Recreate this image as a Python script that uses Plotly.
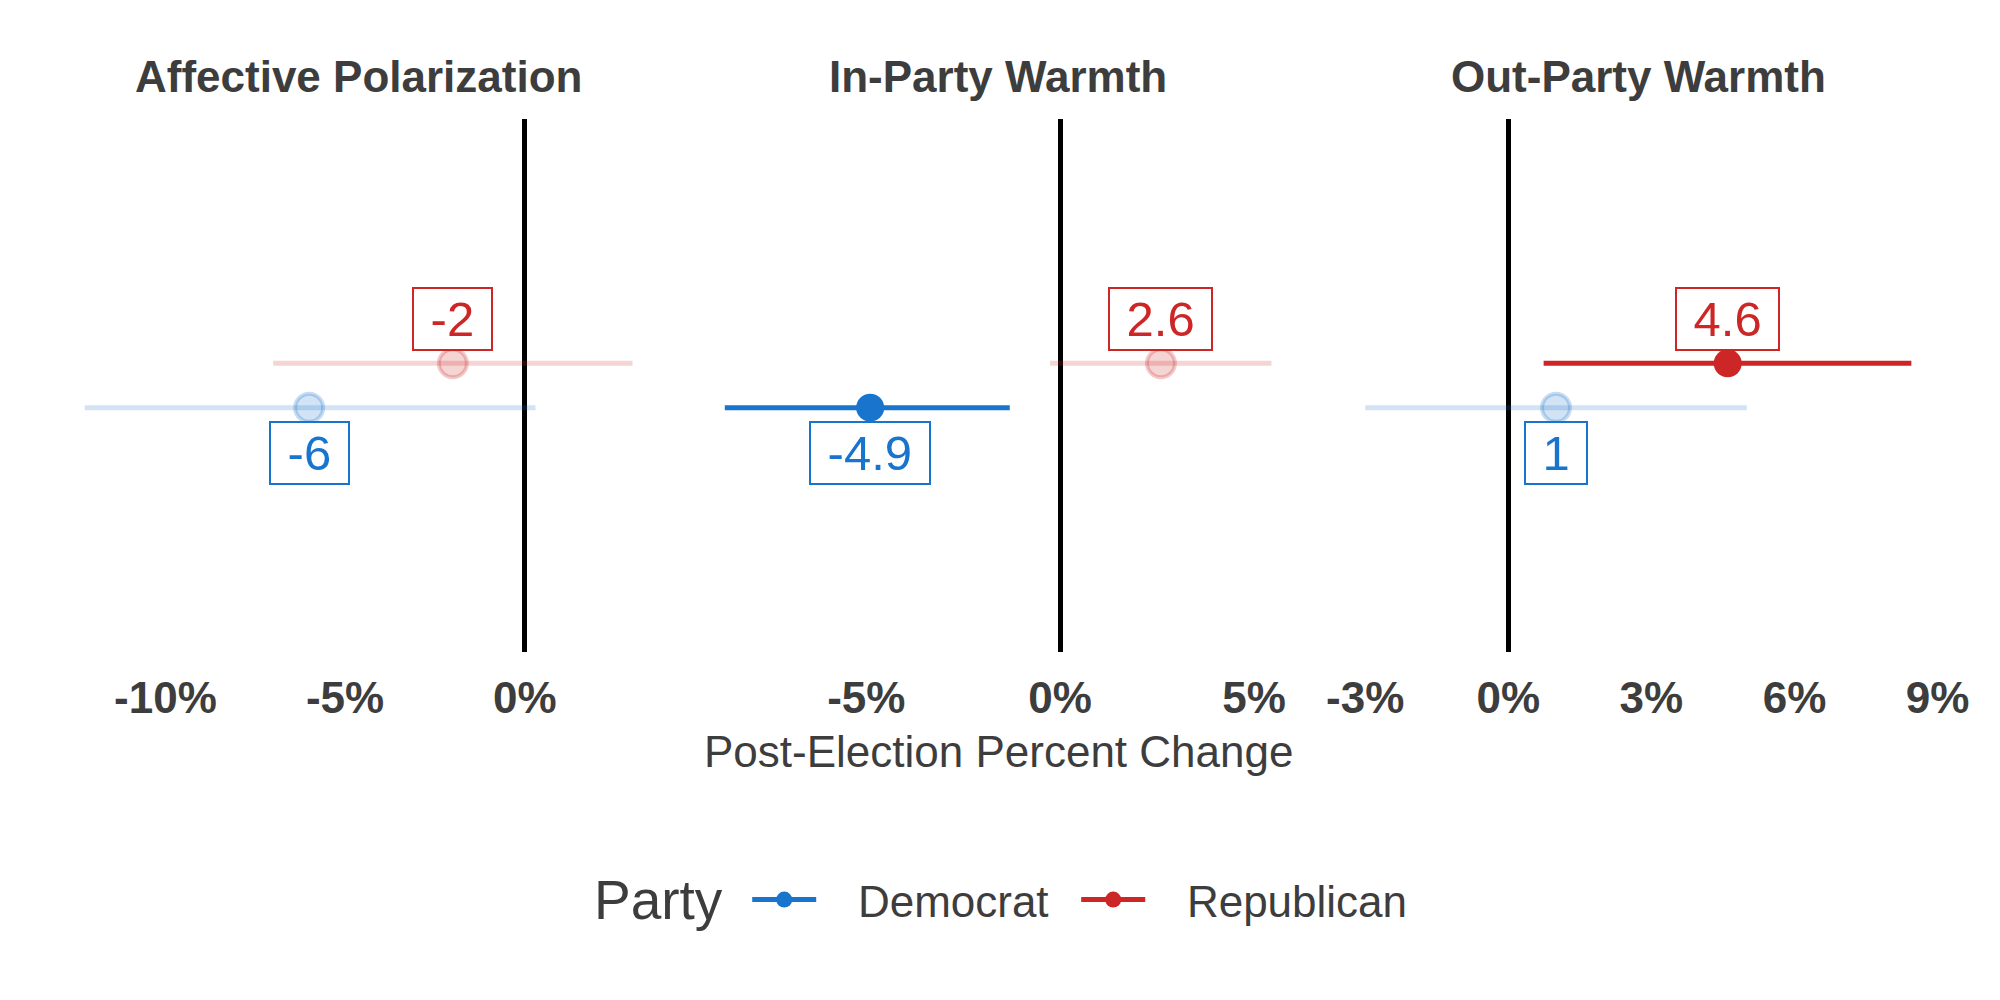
import plotly.graph_objects as go

# ---- data ----
panels = ["Affective Polarization", "In-Party Warmth", "Out-Party Warmth"]
parties = ["Democrat", "Republican"]

dem_est = [-6.0, -4.9, 1.0]
dem_lo = [-12.25, -8.65, -3.0]
dem_hi = [0.3, -1.3, 5.0]

rep_est = [-2.0, 2.6, 4.6]
rep_lo = [-7.0, -0.26, 0.74]
rep_hi = [3.0, 5.45, 8.45]

dem_labels = ["-6", "-4.9", "1"]
rep_labels = ["-2", "2.6", "4.6"]

tick_vals = [[-10, -5, 0], [-5, 0, 5], [-3, 0, 3, 6, 9]]
tick_text = [["-10%", "-5%", "0%"], ["-5%", "0%", "5%"], ["-3%", "0%", "3%", "6%", "9%"]]

# ---- style ----
BLUE = "#1874CD"
RED = "#CD2626"
TXT = "#3D3D3D"
FONT = "Liberation Sans, Arial, sans-serif"
ALPHA = 0.2
NB = "\u00a0"

def rgba(hexc, a):
    h = hexc.lstrip("#")
    r, g, b = int(h[0:2], 16), int(h[2:4], 16), int(h[4:6], 16)
    return f"rgba({r},{g},{b},{a})"

x_domains = [[0.0236, 0.3314], [0.3506, 0.6577], [0.6777, 0.9845]]
y_domain = [0.348, 0.881]
y_pos = {"Democrat": 0.95, "Republican": 1.05}

fig = go.Figure()

series = {
    "Democrat": (dem_est, dem_lo, dem_hi, dem_labels, BLUE, -45),
    "Republican": (rep_est, rep_lo, rep_hi, rep_labels, RED, 44),
}

for i in range(3):
    ax = "" if i == 0 else str(i + 1)
    xa, ya = "x" + ax, "y" + ax
    for party in parties:
        est, lo, hi, labs, col, shift = series[party]
        sig = (lo[i] > 0) or (hi[i] < 0)
        a = 1.0 if sig else ALPHA
        c = rgba(col, a)
        y = y_pos[party]
        # confidence interval line
        fig.add_trace(go.Scatter(
            x=[lo[i], hi[i]], y=[y, y], mode="lines",
            line=dict(color=c, width=5), showlegend=False, hoverinfo="skip",
            xaxis=xa, yaxis=ya))
        # point estimate
        fig.add_trace(go.Scatter(
            x=[est[i]], y=[y], mode="markers",
            marker=dict(size=28, color=c,
                        line=dict(color=rgba(col, 1.0 if sig else 0.25), width=0 if sig else 4)),
            showlegend=False, xaxis=xa, yaxis=ya))
        fig.add_annotation(
            x=est[i], y=y, xref=xa, yref=ya, text=NB + labs[i] + NB, showarrow=False,
            yshift=shift, font=dict(family=FONT, size=49, color=col),
            bgcolor="white", bordercolor=col, borderwidth=2, borderpad=3)

    lo_all = min(dem_lo[i], rep_lo[i])
    hi_all = max(dem_hi[i], rep_hi[i])
    span = hi_all - lo_all
    fig.update_layout(**{
        "xaxis" + ax: dict(
            domain=x_domains[i], range=[lo_all - 0.05 * span, hi_all + 0.05 * span],
            tickvals=tick_vals[i], ticktext=tick_text[i],
            tickfont=dict(family=FONT, size=44, color=TXT, weight="bold"),
            showgrid=False, zeroline=True, zerolinecolor="black", zerolinewidth=5,
            showline=False, ticks="", ticklabelstandoff=16, ticklabeloverflow="allow",
            anchor=ya),
        "yaxis" + ax: dict(
            domain=y_domain, range=[0.4, 1.6], visible=False, showgrid=False,
            zeroline=False, anchor=xa),
    })
    fig.add_annotation(
        x=0.5, y=0.923, xref=xa + " domain", yref="paper", text=panels[i],
        showarrow=False, font=dict(family=FONT, size=44, color=TXT, weight="bold"),
        xanchor="center", yanchor="middle")

# x-axis title
fig.add_annotation(
    x=0.5, y=0.249, xref="x2 domain", yref="paper", text="Post-Election Percent Change",
    showarrow=False, font=dict(family=FONT, size=44, color=TXT),
    xanchor="center", yanchor="middle")

# legend title
fig.add_annotation(
    x=0.3645, y=0.1, xref="paper", yref="paper", text="Party",
    showarrow=False, font=dict(family=FONT, size=55, color=TXT),
    xanchor="right", yanchor="middle")

# legend entries
for party, col in [("Democrat", BLUE), ("Republican", RED)]:
    fig.add_trace(go.Scatter(
        x=[None], y=[None], mode="lines+markers", name=NB * 3 + party,
        line=dict(color=col, width=5), marker=dict(size=16, color=col),
        showlegend=True))

fig.update_layout(
    width=2000, height=1000,
    margin=dict(l=0, r=0, t=0, b=0),
    paper_bgcolor="white", plot_bgcolor="white",
    font=dict(family=FONT, color=TXT),
    showlegend=True,
    legend=dict(
        orientation="h", x=0.376, xanchor="left", y=0.1, yanchor="middle",
        font=dict(family=FONT, size=44, color=TXT),
        itemwidth=64, entrywidth=250, bgcolor="rgba(0,0,0,0)"),
)

fig.write_html("out.html", config={"displayModeBar": False},
               post_script="document.body.style.margin='0px';")
